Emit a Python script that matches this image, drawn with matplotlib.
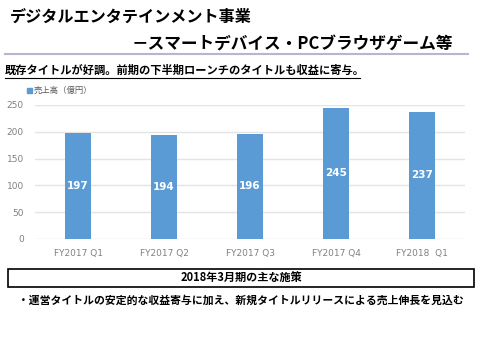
import matplotlib
matplotlib.use('Agg')
from matplotlib import pyplot as plt
from matplotlib.patches import Rectangle
from matplotlib.lines import Line2D

quarters = ['FY2017 Q1', 'FY2017 Q2', 'FY2017 Q3', 'FY2017 Q4', 'FY2018  Q1']
sales = [197, 194, 196, 245, 237]
y_ticks = [0, 50, 100, 150, 200, 250]

title_line1 = 'デジタルエンタテインメント事業'
title_line2 = '－スマートデバイス・PCブラウザゲーム等'
headline = '既存タイトルが好調。前期の下半期ローンチのタイトルも収益に寄与。'
legend_label = '売上高（億円）'
box_title = '2018年3月期の主な施策'
bullet_text = '・運営タイトルの安定的な収益寄与に加え、新規タイトルリリースによる売上伸長を見込む'

plt.rcParams['font.family'] = ['Noto Sans CJK JP', 'DejaVu Sans']

W, H = 480, 340
figure = plt.figure(figsize=(W / 100, H / 100), dpi=100)


def fx(px):
    return px / W


def fy(py):
    return 1 - py / H


bar_color = '#5b9bd5'
tick_color = '#808080'

axes = figure.add_axes([fx(35), fy(239), fx(465) - fx(35), fy(105) - fy(239)])
positions = range(len(quarters))
bars = axes.bar(positions, sales, width=0.31, color=bar_color, zorder=3)
for bar, value in zip(bars, sales):
    axes.text(bar.get_x() + bar.get_width() / 2, value / 2, str(value),
              ha='center', va='center', color='white', fontsize=7.5,
              fontweight='bold', family='DejaVu Sans', zorder=4)

axes.set_xlim(-0.5, len(quarters) - 0.5)
axes.set_ylim(0, 250)
axes.set_yticks(y_ticks)
axes.set_xticks(list(positions))
axes.set_xticklabels(quarters)
axes.tick_params(axis='both', length=0, colors=tick_color, labelsize=6.5)
for label in axes.get_yticklabels() + axes.get_xticklabels():
    label.set_family('DejaVu Sans')
axes.tick_params(axis='y', pad=8)
axes.tick_params(axis='x', pad=7)
axes.grid(axis='y', color='#e4e4e4', linewidth=1, zorder=0)
for spine in axes.spines.values():
    spine.set_visible(False)

# headings
figure.text(fx(10), fy(17), title_line1, fontsize=11.6, fontweight='bold',
            ha='left', va='center')
figure.text(fx(453), fy(45), title_line2, fontsize=12, fontweight='bold',
            ha='right', va='center')
figure.add_artist(Line2D([fx(5), fx(468)], [fy(54), fy(54)], color='#b8b4d4',
                         linewidth=1.5))
figure.text(fx(5), fy(70), headline, fontsize=8.1, fontweight='bold',
            ha='left', va='center')
figure.add_artist(Line2D([fx(5), fx(360)], [fy(78), fy(78)], color='black',
                         linewidth=0.8))

# legend
figure.add_artist(Rectangle((fx(27), fy(93)), fx(5), fy(88) - fy(93),
                            color=bar_color))
figure.text(fx(34), fy(90.5), legend_label, fontsize=6, color='#595959',
            ha='left', va='center')

# box with measures
figure.add_artist(Rectangle((fx(8), fy(287)), fx(474) - fx(8), fy(269) - fy(287),
                            facecolor='white', edgecolor='black', linewidth=1.2))
figure.text(fx(241), fy(278), box_title, fontsize=8, fontweight='bold',
            ha='center', va='center')
figure.text(fx(241), fy(300), bullet_text, fontsize=7.8, fontweight='bold',
            ha='center', va='center')

plt.savefig('out.png', dpi=100)
